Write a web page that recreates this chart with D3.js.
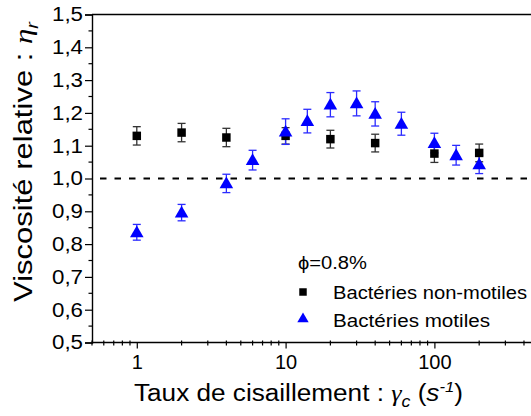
<!DOCTYPE html>
<html>
<head>
<meta charset="utf-8">
<script src="https://cdn.jsdelivr.net/npm/d3@7"></script>
<style>
  html, body { margin: 0; padding: 0; background: #fff; }
  svg { display: block; font-family: "Liberation Sans", Arial, sans-serif; }
</style>
</head>
<body>
<svg id="chart" width="531" height="416"></svg>
<script>
// Shear rates (s^-1) and relative viscosities
const shearNonMotile = [1, 2, 4, 10, 20, 40, 100, 200];
const viscNonMotile  = [1.130, 1.140, 1.125, 1.130, 1.120, 1.108, 1.076, 1.078];
const errNonMotile   = [0.028, 0.028, 0.028, 0.025, 0.027, 0.027, 0.027, 0.027];

const shearMotile = [1, 2, 4, 6, 10, 14, 20, 30, 40, 60, 100, 140, 200];
const viscMotile  = [0.836, 0.896, 0.985, 1.056, 1.143, 1.175, 1.225, 1.229, 1.197, 1.167, 1.108, 1.071, 1.043];
const errMotile   = [0.024, 0.025, 0.028, 0.030, 0.039, 0.036, 0.037, 0.038, 0.037, 0.035, 0.030, 0.030, 0.028];

const yTicks = [0.5, 0.6, 0.7, 0.8, 0.9, 1.0, 1.1, 1.2, 1.3, 1.4, 1.5];
const xTickLabels = [1, 10, 100];
const legendLabels = ["Bactéries non-motiles", "Bactéries motiles"];
const concentrationLabel = "ϕ=0.8%";

const svg = d3.select("#chart");
const plotLeft = 92, plotTop = 14.5, plotBottom = 342.5;
const decade = 148.8;

const x = d3.scaleLog().domain([0.5, 500]).range([plotLeft, plotLeft + Math.log10(1000) * decade]);
const y = d3.scaleLinear().domain([0.5, 1.5]).range([plotBottom, plotTop]);

const fmt = v => d3.format(".1f")(v).replace(".", ",");

// Axis frame: top line, left axis, bottom axis
svg.append("line").attr("x1", plotLeft).attr("x2", 531).attr("y1", plotTop).attr("y2", plotTop)
  .attr("stroke", "#000").attr("stroke-width", 1.4);

const yAxis = d3.axisLeft(y).tickValues(yTicks).tickSize(7).tickPadding(2).tickFormat(fmt);
const gy = svg.append("g").attr("transform", `translate(${plotLeft},0)`).call(yAxis);
gy.select(".domain").attr("stroke-width", 1.4);
gy.selectAll(".tick line").attr("stroke-width", 1.2);
gy.selectAll("text").attr("font-size", 20).attr("fill", "#000")
  .attr("font-family", "Liberation Sans, Arial, sans-serif")
  .attr("textLength", 31).attr("lengthAdjust", "spacingAndGlyphs");

const yMinor = d3.range(0.55, 1.5, 0.1);
svg.append("g").selectAll("line").data(yMinor).join("line")
  .attr("x1", plotLeft - 3.5).attr("x2", plotLeft)
  .attr("y1", d => y(d)).attr("y2", d => y(d))
  .attr("stroke", "#000").attr("stroke-width", 1.2);

const xAxis = d3.axisBottom(x).tickValues(xTickLabels).tickSize(6).tickPadding(6)
  .tickFormat(d3.format("d"));
const gx = svg.append("g").attr("transform", `translate(0,${plotBottom})`).call(xAxis);
gx.select(".domain").remove();
gx.selectAll(".tick line").attr("stroke-width", 1.2);
gx.selectAll("text").attr("font-size", 20).attr("fill", "#000")
  .attr("font-family", "Liberation Sans, Arial, sans-serif");
svg.append("line").attr("x1", plotLeft).attr("x2", 531).attr("y1", plotBottom).attr("y2", plotBottom)
  .attr("stroke", "#000").attr("stroke-width", 1.4);

const xMinor = [];
[0.1, 1, 10, 100].forEach(base => {
  for (let k = 2; k <= 9; k++) {
    const v = base * k;
    if (v >= 0.5 && v <= 500) xMinor.push(v);
  }
});
svg.append("g").selectAll("line").data(xMinor).join("line")
  .attr("x1", d => x(d)).attr("x2", d => x(d))
  .attr("y1", plotBottom - 2).attr("y2", plotBottom + 3)
  .attr("stroke", "#000").attr("stroke-width", 1.2);

// Reference line at eta_r = 1
svg.append("line").attr("x1", plotLeft).attr("x2", 531).attr("y1", y(1)).attr("y2", y(1))
  .attr("stroke", "#000").attr("stroke-width", 2).attr("stroke-dasharray", "6.5,8")
  .attr("stroke-dashoffset", -8);

// Error bars
function errorBars(xs, vs, es, color) {
  const g = svg.append("g").attr("stroke", color).attr("stroke-width", 1.3);
  xs.forEach((s, i) => {
    const cx = x(s), y0 = y(vs[i] - es[i]), y1 = y(vs[i] + es[i]);
    g.append("line").attr("x1", cx).attr("x2", cx).attr("y1", y0).attr("y2", y1);
    g.append("line").attr("x1", cx - 4).attr("x2", cx + 4).attr("y1", y0).attr("y2", y0);
    g.append("line").attr("x1", cx - 4).attr("x2", cx + 4).attr("y1", y1).attr("y2", y1);
  });
}
errorBars(shearNonMotile, viscNonMotile, errNonMotile, "#333");
errorBars(shearMotile, viscMotile, errMotile, "#2b2bff");

const square = d3.symbol().type(d3.symbolSquare).size(72);
const triangle = d3.symbol().type(d3.symbolTriangle).size(80);

svg.append("g").selectAll("path").data(shearNonMotile).join("path")
  .attr("d", square)
  .attr("transform", (d, i) => `translate(${x(d)},${y(viscNonMotile[i])})`)
  .attr("fill", "#000");

svg.append("g").selectAll("path").data(shearMotile).join("path")
  .attr("d", triangle)
  .attr("transform", (d, i) => `translate(${x(d)},${y(viscMotile[i]) + 1})`)
  .attr("fill", "#0000ff");

// Legend
const lg = svg.append("g").attr("font-size", 17.5).attr("fill", "#000");
lg.append("text").attr("x", 298).attr("y", 269).attr("textLength", 69)
  .attr("lengthAdjust", "spacingAndGlyphs").text(concentrationLabel);
lg.append("path").attr("d", d3.symbol().type(d3.symbolSquare).size(56))
  .attr("transform", "translate(303,292)").attr("fill", "#000");
lg.append("text").attr("x", 333).attr("y", 299).attr("textLength", 194)
  .attr("lengthAdjust", "spacingAndGlyphs").text(legendLabels[0]);
lg.append("path").attr("d", d3.symbol().type(d3.symbolTriangle).size(56))
  .attr("transform", "translate(303,319)").attr("fill", "#0000ff");
lg.append("text").attr("x", 333).attr("y", 327).attr("textLength", 157)
  .attr("lengthAdjust", "spacingAndGlyphs").text(legendLabels[1]);

// Axis titles
const xt = svg.append("text").attr("x", 134).attr("y", 401)
  .attr("font-size", 23.5).attr("fill", "#000")
  .attr("textLength", 329).attr("lengthAdjust", "spacingAndGlyphs");
xt.append("tspan").text("Taux de cisaillement : ");
xt.append("tspan").attr("font-style", "italic").attr("font-family", "Liberation Serif, serif").text("γ");
xt.append("tspan").attr("font-style", "italic").attr("font-size", 16).attr("dy", 6).text("c");
xt.append("tspan").attr("dy", -6).text(" (");
xt.append("tspan").attr("font-style", "italic").text("s");
xt.append("tspan").attr("font-style", "italic").attr("font-size", 15).attr("dy", -9).text("-1");
xt.append("tspan").attr("dy", 9).text(")");

const yt = svg.append("text").attr("transform", "translate(32,302) rotate(-90)")
  .attr("font-size", 25).attr("fill", "#000")
  .attr("textLength", 280).attr("lengthAdjust", "spacingAndGlyphs");
yt.append("tspan").text("Viscosité relative : ");
yt.append("tspan").attr("font-style", "italic").attr("font-family", "Liberation Serif, serif").text("η");
yt.append("tspan").attr("font-style", "italic").attr("font-size", 16).attr("dy", 6).text("r");
</script>
</body>
</html>
